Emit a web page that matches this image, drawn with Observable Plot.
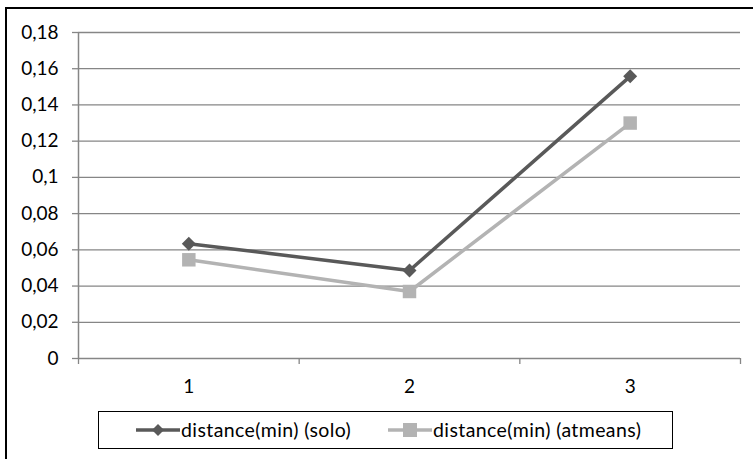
<!DOCTYPE html>
<html><head><meta charset="utf-8">
<script src="https://cdn.jsdelivr.net/npm/d3@7"></script>
<script src="https://cdn.jsdelivr.net/npm/@observablehq/plot@0.6"></script>
<style>
html,body{margin:0;padding:0;background:#fff;overflow:hidden;width:753px;height:459px}
#wrap{position:relative;width:753px;height:459px;overflow:hidden;font-family:Lato,sans-serif;background:#fff}
#frame{position:absolute;left:5px;top:7px;width:800px;height:500px;border:2.5px solid #000;box-sizing:border-box}
#chart{position:absolute;left:0;top:0}
#chart svg text{font-size:19px;font-family:Lato,sans-serif}
#legend{position:absolute;left:98px;top:411px;width:575px;height:38px;border:1.5px solid #000;box-sizing:border-box;background:#fff}
.item{position:absolute;top:0;height:35px;display:flex;align-items:center;font-size:19.5px;letter-spacing:0.4px;color:#000;white-space:nowrap}
.item svg{display:block}
</style></head><body>
<div id="wrap"><div id="frame"></div><div id="chart"></div><div id="legend"></div></div>
<script>
const categories = ["1", "2", "3"];
const seriesNames = ["distance(min) (solo)", "distance(min) (atmeans)"];
const soloValues = [0.0634, 0.0486, 0.1558];
const atmeansValues = [0.0545, 0.0370, 0.1300];
const yTicks = [0, 0.02, 0.04, 0.06, 0.08, 0.10, 0.12, 0.14, 0.16, 0.18];
const yTickLabels = ["0", "0,02", "0,04", "0,06", "0,08", "0,1", "0,12", "0,14", "0,16", "0,18"];
const seriesColors = ["#595959", "#b3b3b3"];
const seriesSymbols = ["diamond2", "square"];

const gridColor = "#868686";
const rows = categories.flatMap((c, i) => [
  {x: i + 1, y: soloValues[i], s: seriesNames[0]},
  {x: i + 1, y: atmeansValues[i], s: seriesNames[1]}
]);
const xPos = categories.map((c, i) => i + 1);
const boundaries = [0.5, ...xPos.map(v => v + 0.5)];

const chart = Plot.plot({
  width: 753,
  height: 405,
  marginLeft: 78,
  marginRight: 13,
  marginTop: 32,
  marginBottom: 47,
  style: {fontFamily: "Lato, sans-serif", fontSize: "19px", background: "transparent", color: "#000"},
  x: {type: "linear", domain: [0.5, categories.length + 0.5], label: null},
  y: {domain: [0, 0.18], label: null},
  color: {domain: seriesNames, range: seriesColors},
  marks: [
    Plot.ruleY(yTicks.slice(1), {stroke: gridColor, strokeWidth: 1.3}),
    Plot.ruleY([0], {stroke: gridColor, strokeWidth: 1.5}),
    Plot.ruleX([0.5], {y1: 0, y2: 0.18, stroke: gridColor, strokeWidth: 1.5}),
    Plot.axisY({ticks: yTicks, tickFormat: (d, i) => yTickLabels[i], tickSize: 6, tickPadding: 14, stroke: gridColor, strokeWidth: 1.3, fill: "#000"}),
    Plot.axisX({ticks: boundaries, tickFormat: () => "", tickSize: 6, stroke: gridColor, strokeWidth: 1.3}),
    Plot.axisX({ticks: xPos, tickFormat: d => categories[d - 1], tickSize: 0, tickPadding: 21, fill: "#000"}),
    Plot.line(rows, {x: "x", y: "y", z: "s", stroke: "s", strokeWidth: 3.5}),
    Plot.dot(rows.filter(d => d.s === seriesNames[0]), {x: "x", y: "y", symbol: seriesSymbols[0], fill: seriesColors[0], r: 6.3}),
    Plot.dot(rows.filter(d => d.s === seriesNames[1]), {x: "x", y: "y", symbol: seriesSymbols[1], fill: seriesColors[1], r: 7.6})
  ]
});
document.getElementById("chart").appendChild(chart);

// Legend
const legend = document.getElementById("legend");
const itemLefts = [37, 289];
const markerSizes = [6, 7];
seriesNames.forEach((name, i) => {
  const item = document.createElement("div");
  item.className = "item";
  item.style.left = itemLefts[i] + "px";
  const sw = d3.create("svg").attr("width", 45).attr("height", 20);
  sw.append("line").attr("x1", 0).attr("x2", 44).attr("y1", 10).attr("y2", 10)
    .attr("stroke", seriesColors[i]).attr("stroke-width", 3.5);
  if (seriesSymbols[i] === "square") {
    const s = markerSizes[i];
    sw.append("rect").attr("x", 22 - s).attr("y", 10 - s).attr("width", 2 * s).attr("height", 2 * s).attr("fill", seriesColors[i]);
  } else {
    const s = markerSizes[i];
    sw.append("path").attr("d", `M22,${10 - s}L${22 + s},10L22,${10 + s}L${22 - s},10Z`).attr("fill", seriesColors[i]);
  }
  item.appendChild(sw.node());
  const t = document.createElement("span");
  t.textContent = name;
  t.style.marginLeft = "0px";
  item.appendChild(t);
  legend.appendChild(item);
});
</script>
</body></html>
